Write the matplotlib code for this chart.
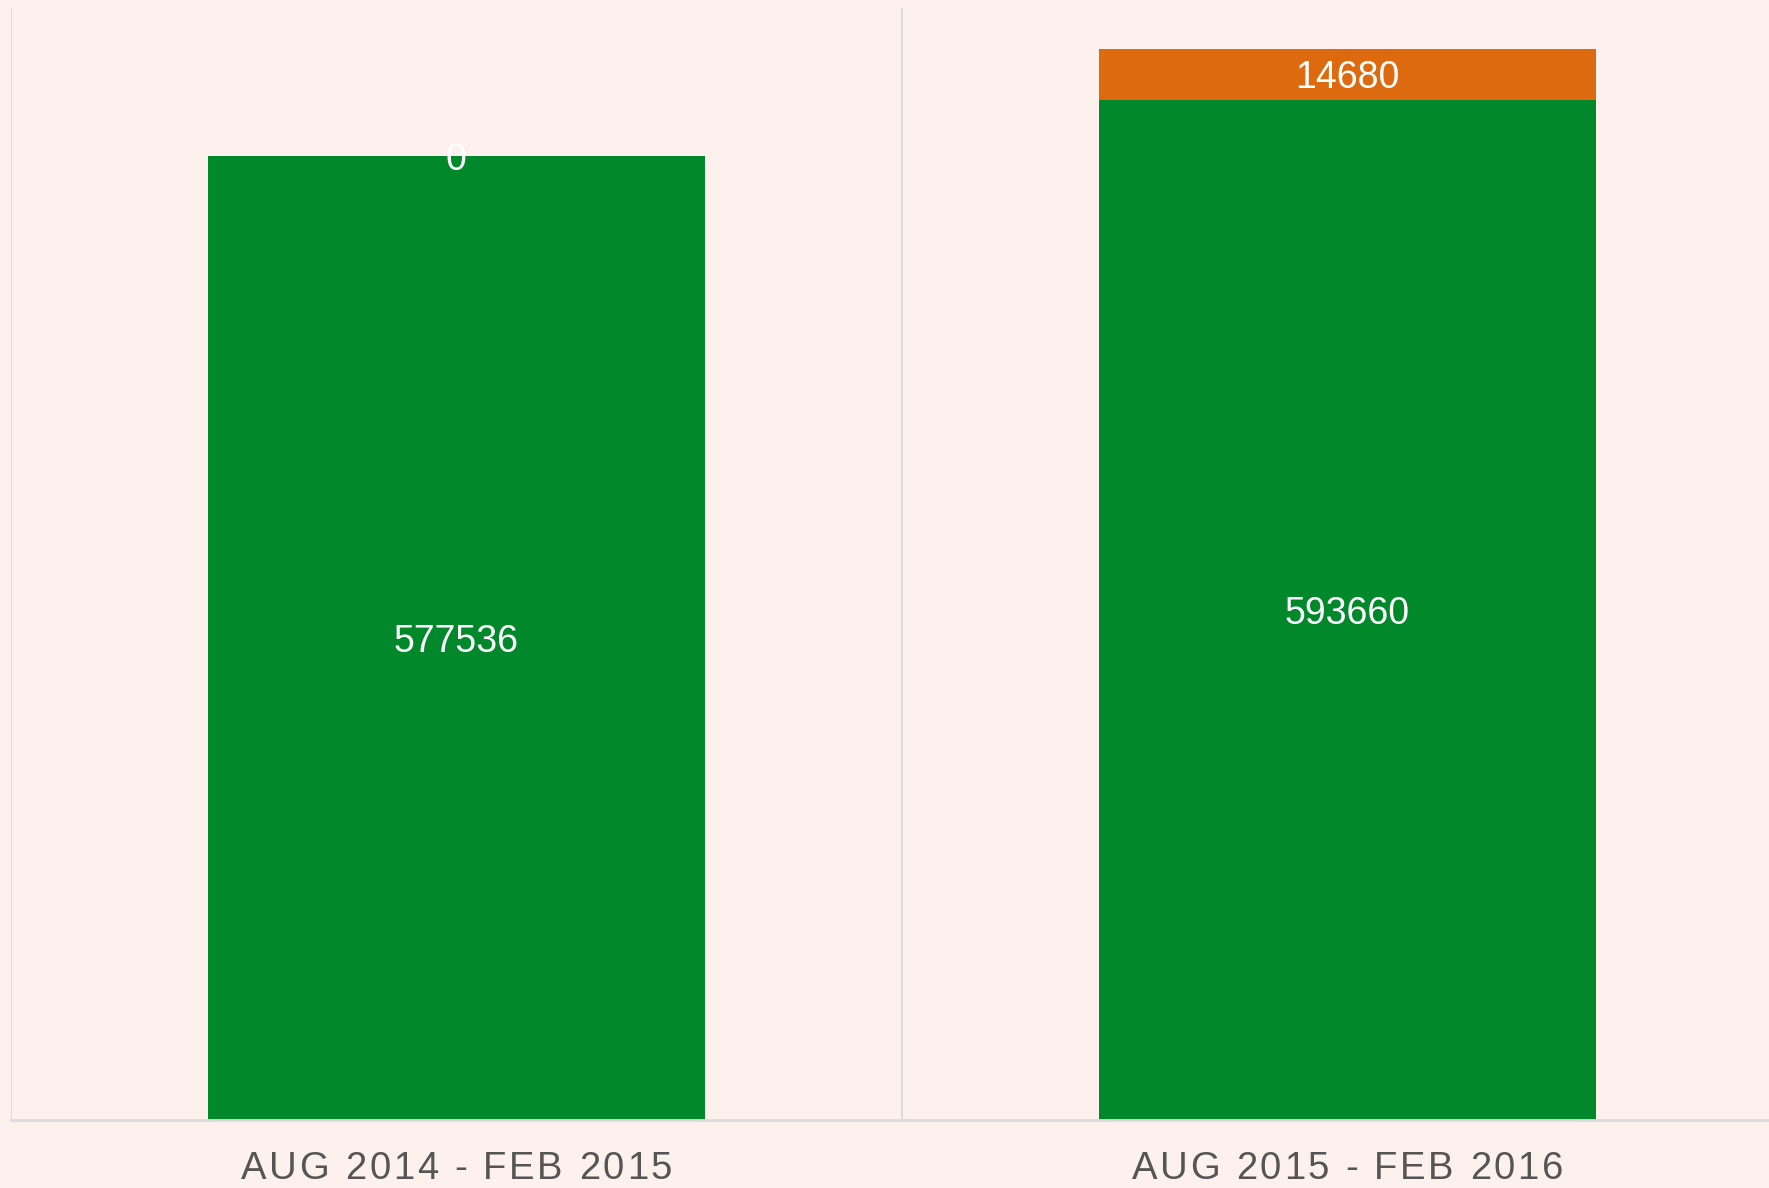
import matplotlib.pyplot as plt
from matplotlib.font_manager import FontProperties, findfont
from matplotlib.ft2font import FT2Font
from matplotlib.transforms import offset_copy

plt.rcParams["font.family"] = ["Liberation Sans", "DejaVu Sans"]

periods = ["AUG 2014 - FEB 2015", "AUG 2015 - FEB 2016"]
green_vals = [577536, 593660]
orange_vals = [0, 14680]

BG = "#fdf1ed"
GREEN = "#00882b"
ORANGE = "#de6a10"
GRID = "#dcdcdc"
Y_MIN, Y_MAX = 300000, 620000
DPI = 100

W, H = 1769, 1188
fig = plt.figure(figsize=(W / DPI, H / DPI), dpi=DPI, facecolor=BG)
ax = fig.add_axes([11 / W, (H - 1120) / H, (W - 11) / W, (1120 - 8) / H])
ax.set_facecolor(BG)


def spaced_label(ax, text, xc, y, size, tracking_px, **kw):
    """Draw text centred at xc (data) / y (axes) with extra letter spacing."""
    font = FT2Font(findfont(FontProperties(family="Liberation Sans")))
    font.set_size(size, DPI)
    adv = [font.load_char(ord(c)).linearHoriAdvance / 65536 for c in text]
    total = sum(adv) + tracking_px * (len(text) - 1)
    base = ax.get_xaxis_transform()
    pos = -total / 2
    for c, a in zip(text, adv):
        tr = offset_copy(base, fig=ax.figure, x=pos * 72 / DPI, y=0, units="points")
        ax.text(xc, y, c, transform=tr, ha="left", va="baseline",
                fontsize=size, clip_on=False, **kw)
        pos += a + tracking_px


x = list(range(len(periods)))
width = 0.558
ax.bar(x, green_vals, width=width, color=GREEN, edgecolor="none", zorder=2)
ax.bar(x, orange_vals, width=width, bottom=green_vals, color=ORANGE,
       edgecolor="none", zorder=2)

# segment labels, centred in the visible part of each segment
for i in x:
    g_lo = max(0, Y_MIN)
    g_hi = green_vals[i]
    ax.text(i, (g_lo + g_hi) / 2, str(green_vals[i]), ha="center",
            va="center_baseline", color="white", fontsize=27, zorder=3)
    o_lo = green_vals[i]
    o_hi = green_vals[i] + orange_vals[i]
    ax.text(i, (o_lo + o_hi) / 2, str(orange_vals[i]), ha="center",
            va="center_baseline", color="white", fontsize=27, zorder=3)

# category separators
for sep in [-0.5, 0.5, 1.5]:
    ax.axvline(sep, color=GRID, linewidth=1.5, zorder=1)

ax.set_xlim(-0.5, 1.4735)
ax.set_ylim(Y_MIN, Y_MAX)
ax.set_yticks([])
ax.set_xticks([])
for i, lab in zip(x, periods):
    spaced_label(ax, lab, i, -59 / 1112, 27.5, 2.7, color="#555555")
for side in ["top", "right", "left"]:
    ax.spines[side].set_visible(False)
ax.spines["bottom"].set_color(GRID)
ax.spines["bottom"].set_linewidth(2)

fig.savefig("out.png", dpi=DPI, facecolor=BG)
